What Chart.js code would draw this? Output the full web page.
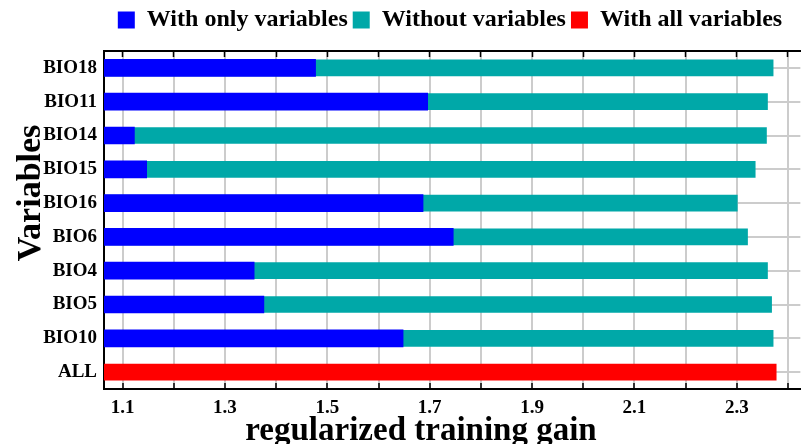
<!DOCTYPE html>
<html lang="en">
<head>
    <title>Jackknife of regularized training gain</title>
    <script src="https://cdn.jsdelivr.net/npm/chart.js"></script>
    <style>
        html, body { margin: 0; padding: 0; background: #fff; overflow: hidden; }
        .chart-container { width: 802px; height: 444px; }
    </style>
</head>
<body>
    <div class="chart-container">
        <canvas id="chart" width="802" height="444"></canvas>
    </div>
    <script>
    // data
    var variables = ["BIO18", "BIO11", "BIO14", "BIO15", "BIO16", "BIO6", "BIO4", "BIO5", "BIO10", "ALL"];
    var withOnly = [1.477, 1.696, 1.123, 1.147, 1.687, 1.746, 1.357, 1.376, 1.648, null];
    var withoutVar = [2.371, 2.360, 2.358, 2.336, 2.301, 2.321, 2.360, 2.368, 2.371, null];
    var withAll = [null, null, null, null, null, null, null, null, null, 2.377];
    var xTickLabels = ["1.1", "1.3", "1.5", "1.7", "1.9", "2.1", "2.3"];
    var xTitle = "regularized training gain";
    var yTitle = "Variables";

    var serif = '"Liberation Serif", "Times New Roman", serif';
    var gridGray = "#cccccc";

    function tickText(value) {
        var s = (Math.round(value * 10) / 10).toFixed(1);
        return xTickLabels.indexOf(s) >= 0 ? s : "";
    }

    // axis titles drawn by hand so they sit where the original has them
    var axisTitles = {
        id: "axisTitles",
        afterDraw: function(chart) {
            var ctx = chart.ctx;
            ctx.save();
            ctx.fillStyle = "#000";
            ctx.textAlign = "center";
            ctx.textBaseline = "alphabetic";
            ctx.font = "bold 33px " + serif;
            ctx.fillText(xTitle, 421, 440);
            ctx.translate(40, 193);
            ctx.rotate(-Math.PI / 2);
            ctx.font = "bold 34px " + serif;
            ctx.fillText(yTitle, 0, 0);
            ctx.restore();
        }
    };

    // move the legend a bit to the right, like the original
    var legendShift = {
        id: "legendShift",
        afterLayout: function(chart) {
            var lg = chart.legend;
            var dx = 450 - (lg.left + lg.right) / 2;
            lg.left += dx;
            lg.right += dx;
        }
    };

    var chart = new Chart(document.getElementById("chart"), {
        type: "bar",
        data: {
            labels: variables,
            datasets: [
                {
                    label: "With only variables",
                    data: withOnly,
                    backgroundColor: "#0000ff",
                    borderWidth: 0,
                    barThickness: 17,
                    grouped: false
                },
                {
                    label: "Without variables",
                    data: withoutVar,
                    backgroundColor: "#00a8a8",
                    borderWidth: 0,
                    barThickness: 16,
                    grouped: false
                },
                {
                    label: "With all variables",
                    data: withAll,
                    backgroundColor: "#ff0000",
                    borderWidth: 0,
                    barThickness: 16,
                    grouped: false
                }
            ]
        },
        options: {
            indexAxis: "y",
            responsive: false,
            animation: false,
            layout: { padding: { left: 0, right: 0, top: 3, bottom: 0 } },
            plugins: {
                tooltip: { enabled: false },
                legend: {
                    position: "top",
                    labels: {
                        boxWidth: 17,
                        boxHeight: 17,
                        padding: 5,
                        color: "#000",
                        font: { family: serif, size: 24, weight: "bold" }
                    }
                }
            },
            scales: {
                x: {
                    position: "bottom",
                    min: 1.0636,
                    max: 2.4242,
                    afterFit: function(s) { s.height = 55; },
                    ticks: {
                        stepSize: 0.1,
                        includeBounds: false,
                        autoSkip: false,
                        maxRotation: 0,
                        padding: 14,
                        color: "#000",
                        font: { family: serif, size: 19, weight: "bold" },
                        callback: function(v) { return tickText(v); }
                    },
                    grid: {
                        color: gridGray,
                        lineWidth: 2,
                        tickLength: -6,
                        tickColor: "#000",
                        tickWidth: 1.5
                    },
                    border: { color: "#000", width: 2 }
                },
                x2: {
                    position: "top",
                    axis: "x",
                    min: 1.0636,
                    max: 2.4242,
                    afterFit: function(s) { s.height = 9; },
                    ticks: { stepSize: 0.1, includeBounds: false, autoSkip: false, display: false },
                    grid: {
                        drawOnChartArea: false,
                        tickLength: -6,
                        tickColor: "#000",
                        tickWidth: 1.5
                    },
                    border: { color: "#000", width: 2 }
                },
                y: {
                    afterFit: function(s) { s.width = 104; },
                    ticks: {
                        padding: 7,
                        color: "#000",
                        font: { family: serif, size: 19, weight: "bold" }
                    },
                    grid: {
                        offset: false,
                        color: gridGray,
                        lineWidth: 2,
                        drawTicks: false
                    },
                    border: { color: "#000", width: 2 }
                }
            }
        },
        plugins: [axisTitles, legendShift]
    });
    </script>
</body>
</html>
